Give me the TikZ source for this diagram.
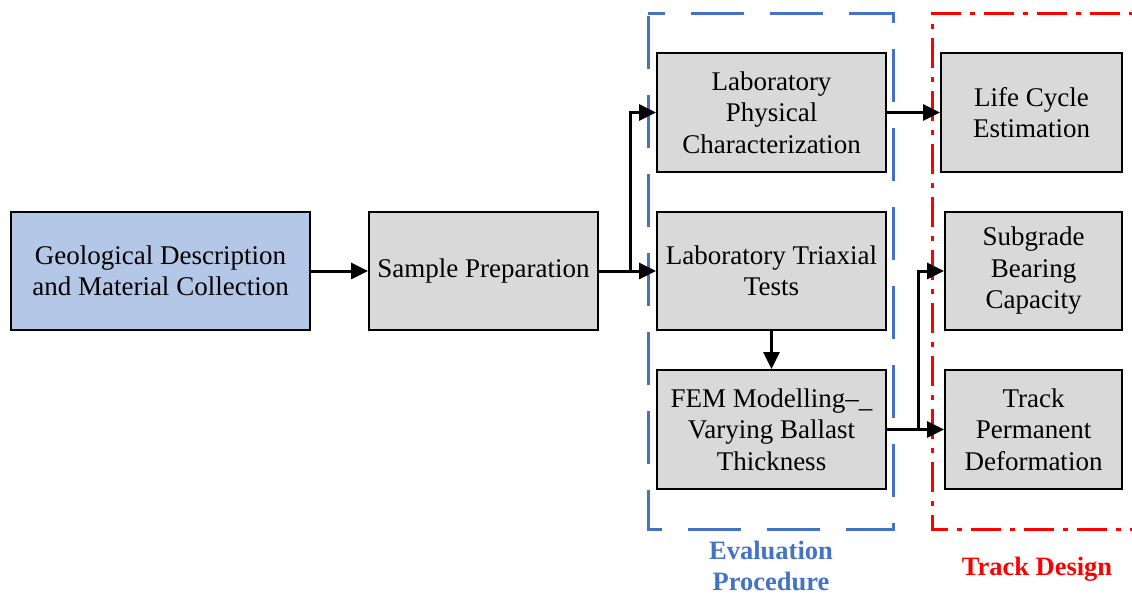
\documentclass[tikz,border=0pt]{standalone}
\usepackage{fontspec}
\setmainfont{Liberation Serif}
\usetikzlibrary{arrows.meta}
\definecolor{geoblue}{HTML}{B4C7E7}
\definecolor{boxgray}{HTML}{D9D9D9}
\definecolor{frameblue}{HTML}{4472C4}
\definecolor{framered}{HTML}{FF0000}
\begin{document}
\begin{tikzpicture}[x=1pt,y=-1pt,
  box/.style={draw=black, line width=1.8pt, fill=boxgray, inner sep=0pt,
    align=center, font=\fontsize{27}{31.5}\selectfont},
  flow/.style={line width=3pt, -{Triangle[length=17pt,width=16pt]}},
  lab/.style={align=center, inner sep=0pt, font=\fontsize{26.5}{31.5}\selectfont\bfseries}]
\useasboundingbox (0,0) rectangle (1132,596);

% group frames
\draw[frameblue, line width=3pt, dash pattern=on 53pt off 26pt, dash phase=36pt]
  (648,14) -- (893,14) -- (893,529) -- (648,529) -- cycle;
\begin{scope}
  \clip (0,0) rectangle (1132,596);
  \draw[framered, line width=3pt, dash pattern=on 30pt off 9pt on 5pt off 9pt]
    (1160,529) -- (932,529) -- (932,14) -- (1160,14);
\end{scope}

% process boxes
\node[box, fill=geoblue, minimum width=299pt, minimum height=118pt] (geo) at (160.5,271)
  {Geological Description\\and Material Collection};
\node[box, minimum width=229pt, minimum height=118pt] (prep) at (483.5,271)
  {Sample Preparation};
\node[box, minimum width=229pt, minimum height=119pt] (phys) at (771.5,112.5)
  {Laboratory\\Physical\\Characterization};
\node[box, minimum width=229pt, minimum height=118pt] (tri) at (771.5,271)
  {Laboratory Triaxial\\Tests};
\node[box, minimum width=229pt, minimum height=119pt] (fem) at (771.5,429.5)
  {FEM Modelling\textendash\_\\Varying Ballast\\Thickness};
\node[box, minimum width=181pt, minimum height=119pt] (life) at (1031.5,112.5)
  {Life Cycle\\Estimation};
\node[box, minimum width=177pt, minimum height=118pt] (sub) at (1033.5,271)
  {Subgrade\\Bearing\\Capacity};
\node[box, minimum width=177pt, minimum height=119pt] (track) at (1033.5,429.5)
  {Track\\Permanent\\Deformation};

% group labels
\node[lab, text=frameblue] (evallab) at (771,566) {Evaluation\\Procedure};
\node[lab, text=framered] (designlab) at (1037,569) {Track Design};

% connectors
\coordinate (split) at (630,271);
\coordinate (merge) at (918,429.5);
\draw[flow] (geo) -- (prep);
\draw[flow] (prep.east) -- (split) |- (phys.west);
\draw[flow] (split) -- (tri.west);
\draw[flow] (tri) -- (fem);
\draw[flow] (phys) -- (life);
\draw[flow] (fem.east) -- (merge) |- (sub.west);
\draw[flow] (merge) -- (track.west);
\end{tikzpicture}
\end{document}
